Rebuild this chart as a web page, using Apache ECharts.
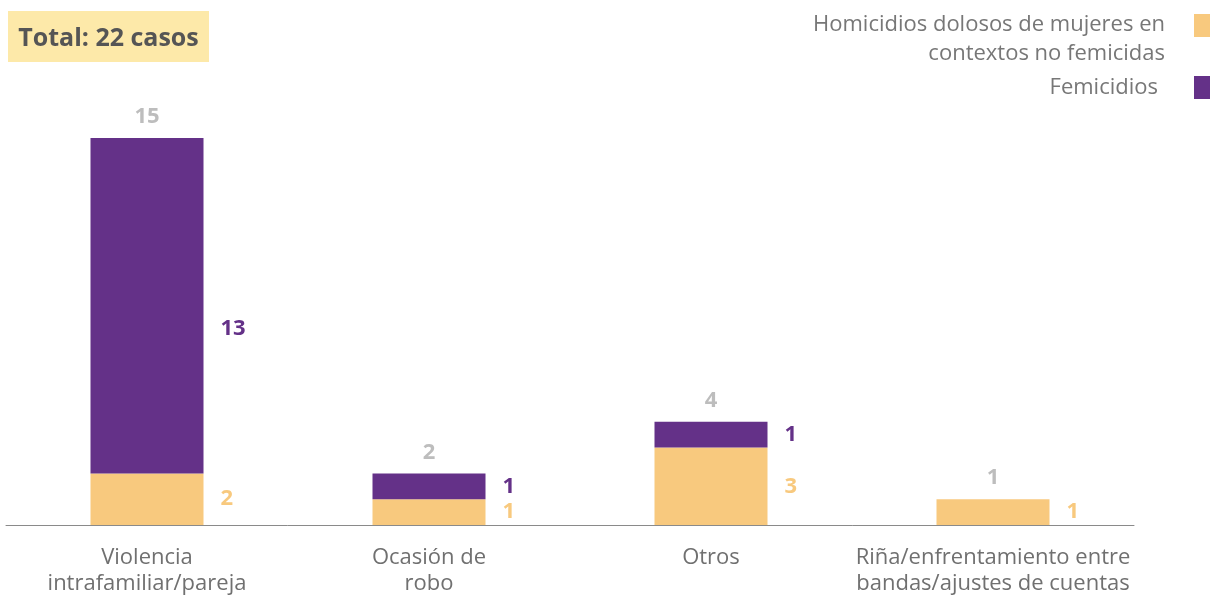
<!DOCTYPE html>
<html>
<head>
<meta charset="utf-8">
<style>
html, body { margin: 0; padding: 0; background: #fff; }
#chart { width: 1210px; height: 595px; }
</style>
<script src="https://cdn.jsdelivr.net/npm/echarts@6/dist/echarts.min.js"></script>
</head>
<body>
<div id="chart"></div>
<script>
// datos
const categories = [
  "Violencia\nintrafamiliar/pareja",
  "Ocasión de\nrobo",
  "Otros",
  "Riña/enfrentamiento entre\nbandas/ajustes de cuentas"
];
const seriesNames = [
  "Homicidios dolosos de mujeres en\ncontextos no femicidas",
  "Femicidios"
];
const noFemicidas = [2, 1, 3, 1];
const femicidios = [13, 1, 1, 0];

const YELLOW = "#f8c97e";
const PURPLE = "#643188";
const FONT = '"Open Sans", sans-serif';

let totals = noFemicidas.map((v, i) => v + femicidios[i]);
let sum = totals.reduce((a, b) => a + b, 0);

let segLabel = color => ({
  show: true,
  position: "right",
  distance: 17,
  color: color,
  fontFamily: FONT,
  fontWeight: "bold",
  fontSize: 22,
  formatter: p => (p.value ? p.value : "")
});

let option = {
  animation: false,
  grid: { left: 6, right: 76, top: 138, bottom: 70, outerBoundsMode: "none" },
  legend: [
    {
      data: [seriesNames[0]],
      orient: "vertical",
      right: -7,
      top: 14,
      padding: 0,
      align: "right",
      icon: "rect",
      itemWidth: 23,
      itemHeight: 23,
      selectedMode: false,
      // primera línea alineada con el cuadro, segunda debajo
      formatter: name => name.split("\n").map((s, i) => "{l" + i + "|" + s + "}").join("\n"),
      textStyle: {
        color: "#777",
        fontSize: 22,
        fontFamily: FONT,
        padding: [0, 24, 0, 0],
        rich: {
          l0: { color: "#777", fontSize: 22, fontFamily: FONT, lineHeight: 56 },
          l1: { color: "#777", fontSize: 22, fontFamily: FONT, lineHeight: 1 }
        }
      }
    },
    {
      data: [seriesNames[1]],
      orient: "vertical",
      right: -7,
      top: 76,
      padding: 0,
      align: "right",
      icon: "rect",
      itemWidth: 23,
      itemHeight: 23,
      selectedMode: false,
      textStyle: { color: "#777", fontSize: 22, lineHeight: 23, fontFamily: FONT, padding: [0, 31, 0, 0] }
    }
  ],
  graphic: [
    {
      type: "group",
      left: 8,
      top: 11,
      children: [
        { type: "rect", shape: { x: 0, y: 0, width: 201, height: 51 }, style: { fill: "#fde9a9" } },
        {
          type: "text",
          x: 100.5,
          y: 28,
          style: {
            text: "Total: " + sum + " casos",
            align: "center",
            verticalAlign: "middle",
            fill: "#555",
            font: 'bold 25px "Open Sans", sans-serif'
          }
        }
      ]
    }
  ],
  xAxis: {
    type: "category",
    data: categories,
    axisLine: { lineStyle: { color: "#8a8a8a", width: 1 } },
    axisTick: { show: false },
    axisLabel: { color: "#707070", fontSize: 22, lineHeight: 26, fontFamily: FONT, margin: 20, interval: 0 }
  },
  yAxis: { type: "value", min: 0, max: 15, show: false, splitLine: { show: false } },
  series: [
    {
      name: seriesNames[0],
      type: "bar",
      stack: "casos",
      barWidth: 113,
      barGap: "-100%",
      itemStyle: { color: YELLOW },
      label: segLabel(YELLOW),
      data: noFemicidas
    },
    {
      name: seriesNames[1],
      type: "bar",
      stack: "casos",
      barWidth: 113,
      barGap: "-100%",
      itemStyle: { color: PURPLE },
      label: segLabel(PURPLE),
      // la etiqueta de 13 va más abajo en el original
      data: femicidios.map((v, i) => (i === 0 ? { value: v, label: { offset: [0, 23] } } : v))
    },
    {
      name: "Total",
      type: "bar",
      barWidth: 113,
      barGap: "-100%",
      silent: true,
      z: 1,
      itemStyle: { color: "rgba(0,0,0,0)" },
      label: {
        show: true,
        position: "top",
        distance: 10,
        color: "#bdbdbd",
        fontFamily: FONT,
        fontWeight: "bold",
        fontSize: 22
      },
      data: totals
    }
  ]
};

let chart = echarts.init(document.getElementById("chart"));
chart.setOption(option);
</script>
</body>
</html>
